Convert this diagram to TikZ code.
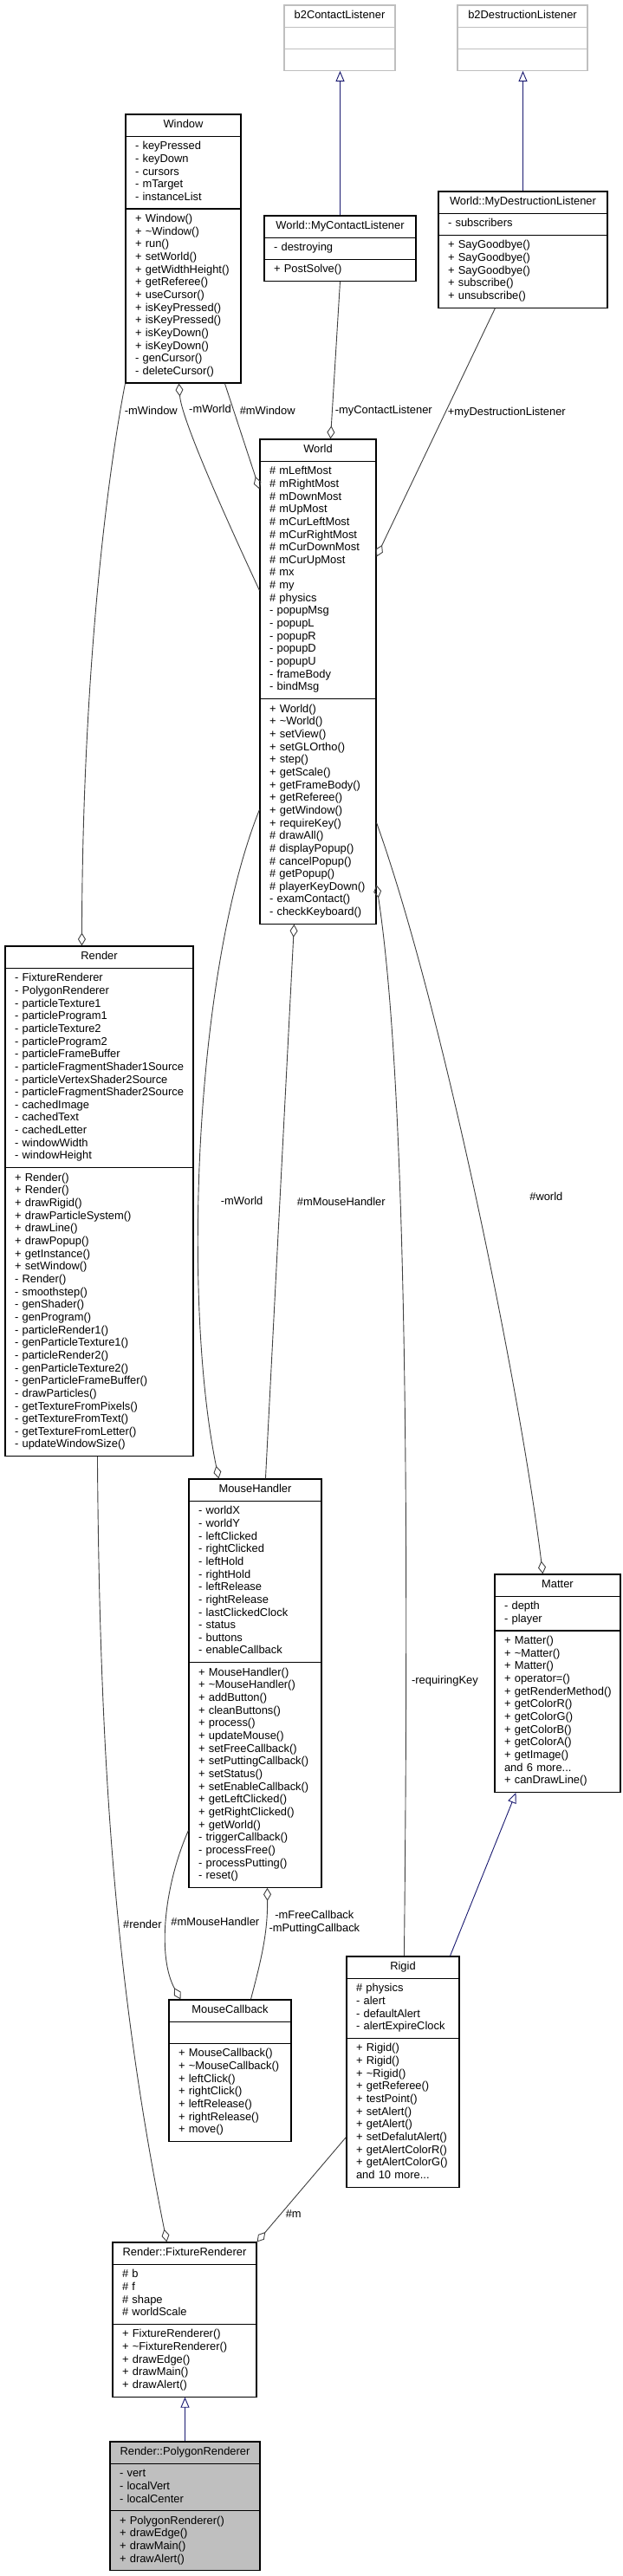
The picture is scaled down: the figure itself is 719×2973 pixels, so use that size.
\documentclass[tikz,border=0pt]{standalone}
\usepackage{fontspec}
\setmainfont{Liberation Sans}
\usetikzlibrary{arrows.meta,fit}
\setlength{\parindent}{0pt}

\definecolor{edgegrey}{HTML}{404040}
\definecolor{midnightblue}{HTML}{191970}
\definecolor{grey75}{HTML}{BFBFBF}

\newcommand{\umlfont}{\fontsize{12.9}{14.66}\selectfont}
\newcommand{\umlstrut}{\rule[-4.36pt]{0pt}{14.66pt}}

\tikzset{
umltitle/.style={font=\umlfont, anchor=north west, inner xsep=5pt, inner ysep=5.25pt, outer sep=0pt, align=center, execute at begin node=\umlstrut, execute at end node=\umlstrut},
umlpart/.style={font=\umlfont, anchor=north west, inner xsep=11pt, inner ysep=5.25pt, outer sep=0pt, align=left, execute at begin node={\rightskip=-14pt plus 1fil\relax\umlstrut}, execute at end node=\umlstrut},
umlframe/.style={draw=black, line width=1.1pt, inner sep=0pt},
hasa/.style={draw=edgegrey, line width=0.9pt, -{Diamond[open, length=15pt, width=9pt]}},
isa/.style={draw=midnightblue, line width=0.9pt, -{Triangle[open, length=12pt, width=10pt]}},
lbl/.style={font=\umlfont, inner sep=0pt, anchor=west}
}

% #1 style, #2 name, #3 top left, #4 width, #5 title, #6 attributes, #7 methods
\newcommand{\umlclass}[7][]{%
\pgfmathsetmacro{\umltw}{#4-10}%
\pgfmathsetmacro{\umlpw}{#4-22}%
\node[umltitle, text width=\umltw pt, #1] (#2-t) at #3 {#5};
\node[umlpart, text width=\umlpw pt, #1] (#2-a) at (#2-t.south west) {#6};
\node[umlpart, text width=\umlpw pt, #1] (#2-m) at (#2-a.south west) {#7};
\node[umlframe, fit=(#2-t)(#2-m), #1, fill=none] (#2) {};
\draw[umlframe, #1, fill=none] (#2-a.north west) -- (#2-a.north east) (#2-m.north west) -- (#2-m.north east);
}

\begin{document}
\begin{tikzpicture}[x=1pt, y=-1pt]
\useasboundingbox[fill=white] (0,0) rectangle (719,2973);

\umlclass[draw=grey75]{b2contact}{(328,6)}{128}{b2ContactListener}{}{}
\umlclass[draw=grey75]{b2destr}{(528,6)}{150}{b2DestructionListener}{}{}
\umlclass{window}{(145,132)}{133}{Window}
{- keyPressed\\- keyDown\\- cursors\\- mTarget\\- instanceList}
{+ Window()\\+ \textasciitilde Window()\\+ run()\\+ setWorld()\\+ getWidthHeight()\\+ getReferee()\\+ useCursor()\\+ isKeyPressed()\\+ isKeyPressed()\\+ isKeyDown()\\+ isKeyDown()\\- genCursor()\\- deleteCursor()}
\umlclass{contact}{(305,249)}{175}{World::MyContactListener}
{- destroying}
{+ PostSolve()}
\umlclass{destr}{(506,221)}{195}{World::MyDestructionListener}
{- subscribers}
{+ SayGoodbye()\\+ SayGoodbye()\\+ SayGoodbye()\\+ subscribe()\\+ unsubscribe()}
\umlclass{world}{(300,507)}{134}{World}
{\# mLeftMost\\\# mRightMost\\\# mDownMost\\\# mUpMost\\\# mCurLeftMost\\\# mCurRightMost\\\# mCurDownMost\\\# mCurUpMost\\\# mx\\\# my\\\# physics\\- popupMsg\\- popupL\\- popupR\\- popupD\\- popupU\\- frameBody\\- bindMsg}
{+ World()\\+ \textasciitilde World()\\+ setView()\\+ setGLOrtho()\\+ step()\\+ getScale()\\+ getFrameBody()\\+ getReferee()\\+ getWindow()\\+ requireKey()\\\# drawAll()\\\# displayPopup()\\\# cancelPopup()\\\# getPopup()\\\# playerKeyDown()\\- examContact()\\- checkKeyboard()}
\umlclass{render}{(6,1092)}{217}{Render}
{- FixtureRenderer\\- PolygonRenderer\\- particleTexture1\\- particleProgram1\\- particleTexture2\\- particleProgram2\\- particleFrameBuffer\\- particleFragmentShader1Source\\- particleVertexShader2Source\\- particleFragmentShader2Source\\- cachedImage\\- cachedText\\- cachedLetter\\- windowWidth\\- windowHeight}
{+ Render()\\+ Render()\\+ drawRigid()\\+ drawParticleSystem()\\+ drawLine()\\+ drawPopup()\\+ getInstance()\\+ setWindow()\\- Render()\\- smoothstep()\\- genShader()\\- genProgram()\\- particleRender1()\\- genParticleTexture1()\\- particleRender2()\\- genParticleTexture2()\\- genParticleFrameBuffer()\\- drawParticles()\\- getTextureFromPixels()\\- getTextureFromText()\\- getTextureFromLetter()\\- updateWindowSize()}
\umlclass{mouse}{(218,1707)}{153}{MouseHandler}
{- worldX\\- worldY\\- leftClicked\\- rightClicked\\- leftHold\\- rightHold\\- leftRelease\\- rightRelease\\- lastClickedClock\\- status\\- buttons\\- enableCallback}
{+ MouseHandler()\\+ \textasciitilde MouseHandler()\\+ addButton()\\+ cleanButtons()\\+ process()\\+ updateMouse()\\+ setFreeCallback()\\+ setPuttingCallback()\\+ setStatus()\\+ setEnableCallback()\\+ getLeftClicked()\\+ getRightClicked()\\+ getWorld()\\- triggerCallback()\\- processFree()\\- processPutting()\\- reset()}
\umlclass{matter}{(571,1817)}{145}{Matter}
{- depth\\- player}
{+ Matter()\\+ \textasciitilde Matter()\\+ Matter()\\+ operator=()\\+ getRenderMethod()\\+ getColorR()\\+ getColorG()\\+ getColorB()\\+ getColorA()\\+ getImage()\\and 6 more...\\+ canDrawLine()}
\umlclass{rigid}{(400,2258)}{130}{Rigid}
{\# physics\\- alert\\- defaultAlert\\- alertExpireClock}
{+ Rigid()\\+ Rigid()\\+ \textasciitilde Rigid()\\+ getReferee()\\+ testPoint()\\+ setAlert()\\+ getAlert()\\+ setDefalutAlert()\\+ getAlertColorR()\\+ getAlertColorG()\\and 10 more...}
\umlclass{callback}{(195,2308)}{141}{MouseCallback}
{}
{+ MouseCallback()\\+ \textasciitilde MouseCallback()\\+ leftClick()\\+ rightClick()\\+ leftRelease()\\+ rightRelease()\\+ move()}
\umlclass{fixture}{(130,2588)}{166}{Render::FixtureRenderer}
{\# b\\\# f\\\# shape\\\# worldScale}
{+ FixtureRenderer()\\+ \textasciitilde FixtureRenderer()\\+ drawEdge()\\+ drawMain()\\+ drawAlert()}
\umlclass[fill=grey75]{polygon}{(127,2818)}{173}{Render::PolygonRenderer}
{- vert\\- localVert\\- localCenter}
{+ PolygonRenderer()\\+ drawEdge()\\+ drawMain()\\+ drawAlert()}

% inheritance
\draw[isa] (contact.north) -- (contact.north |- b2contact.south);
\draw[isa] (destr.north) -- (destr.north |- b2destr.south);
\draw[isa] ([xshift=120pt]rigid.north west) -- ([xshift=25pt]matter.south west);
\draw[isa] (polygon.north) -- (polygon.north |- fixture.south);

% members
\draw[hasa] (contact.south) -- ([xshift=82pt]world.north west) node[lbl, pos=0.82, xshift=3pt] {-myContactListener};
\draw[hasa] ([xshift=66pt]destr.south west) -- ([yshift=-136pt]world.north east) node[lbl, pos=0.42, xshift=2.5pt] {+myDestructionListener};
\draw[hasa] (window.south west) .. controls (120,570) and (95,800) .. ([xshift=89pt]render.north west) node[lbl, pos=0.077, xshift=4.6pt] {-mWindow};
\draw[hasa] ([yshift=-175pt]world.north west) .. controls (285,650) and (210,490) .. ([xshift=62pt]window.south west) node[lbl, pos=0.845, xshift=5pt] {-mWorld};
\draw[hasa] ([xshift=115pt]window.south west) -- ([yshift=-58pt]world.north west) node[lbl, pos=0.26, xshift=6.5pt] {\#mWindow};
\draw[hasa] ([yshift=-428pt]world.north west) .. controls (225,1120) and (210,1500) .. ([xshift=35pt]mouse.north west) node[lbl, pos=0.585, xshift=25pt] {-mWorld};
\draw[hasa] ([xshift=89pt]mouse.north west) -- ([xshift=40pt]world.south west) node[lbl, pos=0.5, xshift=19.5pt] {\#mMouseHandler};
\draw[hasa] ([xshift=67pt]rigid.north west) .. controls (473,1650) and (466,1230) .. ([yshift=-515pt]world.north east) node[lbl, pos=0.185, xshift=6pt] {-requiringKey};
\draw[hasa] ([yshift=-443pt]world.north east) .. controls (510,1160) and (600,1600) .. ([xshift=56pt]matter.north west) node[lbl, pos=0.5, xshift=62pt] {\#world};
\draw[hasa] ([xshift=107pt]render.south west) .. controls (115,2050) and (135,2300) .. ([xshift=63pt]fixture.north west) node[lbl, pos=0.565, xshift=4.6pt] {\#render};
\draw[hasa] ([yshift=-406pt]mouse.north west) .. controls (188,2180) and (182,2260) .. ([xshift=14pt]callback.north west) node[lbl, pos=0.5, xshift=5pt] {\#mMouseHandler};
\draw[hasa] ([xshift=95pt]callback.north west) .. controls (302,2260) and (309,2230) .. ([xshift=91pt]mouse.south west) node[lbl, pos=0.71, xshift=3pt, align=center] {-mFreeCallback\\-mPuttingCallback};
\draw[hasa] ([yshift=-209pt]rigid.north west) -- (fixture.north east) node[lbl, pos=0.735, xshift=5.5pt] {\#m};
\end{tikzpicture}
\end{document}
